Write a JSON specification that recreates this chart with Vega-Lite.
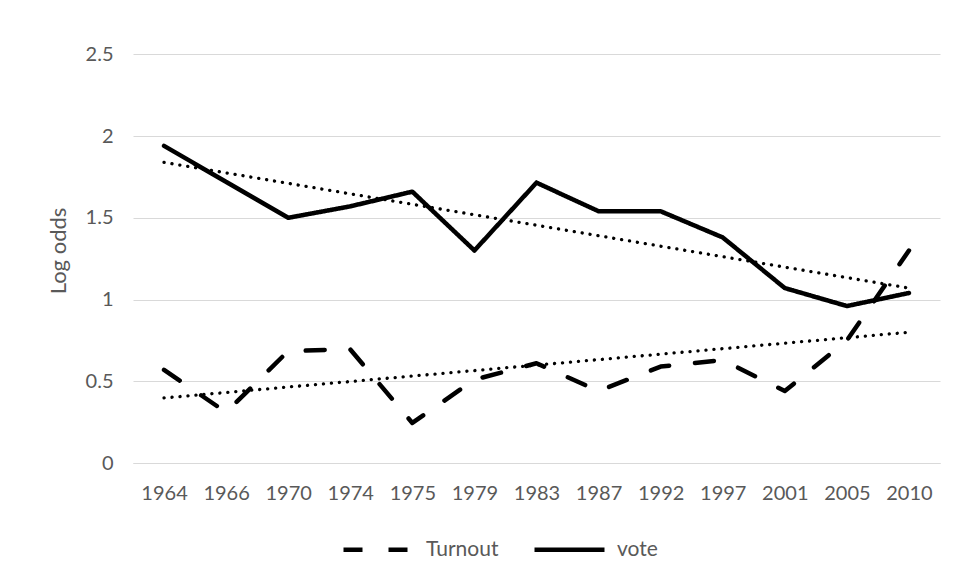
{
  "$schema": "https://vega.github.io/schema/vega-lite/v6.json",
  "width": 807,
  "height": 425,
  "autosize": "none",
  "padding": {"left": 133, "top": 38, "right": 17, "bottom": 117},
  "background": "white",
  "config": {
    "view": {"stroke": null},
    "font": "Lato",
    "axis": {"labelFont": "Lato", "titleFont": "Lato", "labelColor": "#595959", "titleColor": "#595959", "labelFontSize": 20, "titleFontSize": 22, "titleFontWeight": "normal"},
    "legend": {"labelFont": "Lato", "labelFontSize": 21, "labelColor": "#595959"}
  },
  "datasets": {
    "main": [
      {"year": "1964", "series": "Turnout", "value": 0.57},
      {"year": "1966", "series": "Turnout", "value": 0.31},
      {"year": "1970", "series": "Turnout", "value": 0.685},
      {"year": "1974", "series": "Turnout", "value": 0.695},
      {"year": "1975", "series": "Turnout", "value": 0.245},
      {"year": "1979", "series": "Turnout", "value": 0.51},
      {"year": "1983", "series": "Turnout", "value": 0.61},
      {"year": "1987", "series": "Turnout", "value": 0.44},
      {"year": "1992", "series": "Turnout", "value": 0.59},
      {"year": "1997", "series": "Turnout", "value": 0.63},
      {"year": "2001", "series": "Turnout", "value": 0.44},
      {"year": "2005", "series": "Turnout", "value": 0.75},
      {"year": "2010", "series": "Turnout", "value": 1.3},
      {"year": "1964", "series": "vote", "value": 1.94},
      {"year": "1966", "series": "vote", "value": 1.72},
      {"year": "1970", "series": "vote", "value": 1.5},
      {"year": "1974", "series": "vote", "value": 1.57},
      {"year": "1975", "series": "vote", "value": 1.66},
      {"year": "1979", "series": "vote", "value": 1.3},
      {"year": "1983", "series": "vote", "value": 1.715},
      {"year": "1987", "series": "vote", "value": 1.54},
      {"year": "1992", "series": "vote", "value": 1.54},
      {"year": "1997", "series": "vote", "value": 1.38},
      {"year": "2001", "series": "vote", "value": 1.07},
      {"year": "2005", "series": "vote", "value": 0.96},
      {"year": "2010", "series": "vote", "value": 1.04}
    ],
    "trend": [
      {"year": "1964", "series": "Turnout trend", "value": 0.398},
      {"year": "2010", "series": "Turnout trend", "value": 0.8},
      {"year": "1964", "series": "vote trend", "value": 1.839},
      {"year": "2010", "series": "vote trend", "value": 1.07}
    ]
  },
  "layer": [
    {
      "data": {"name": "trend"},
      "mark": {"type": "line", "color": "black", "strokeWidth": 3.3, "strokeDash": [0.1, 7.9], "strokeCap": "round"},
      "encoding": {
        "x": {"field": "year", "type": "ordinal"},
        "y": {"field": "value", "type": "quantitative"},
        "detail": {"field": "series"}
      }
    },
    {
      "data": {"name": "main"},
      "mark": {"type": "line", "color": "black", "strokeWidth": 4.5, "strokeCap": "round", "strokeJoin": "round"},
      "encoding": {
        "x": {
          "field": "year", "type": "ordinal",
          "scale": {"type": "point", "padding": 0.5},
          "axis": {"title": null, "labelAngle": 0, "labelAlign": "center", "labelBaseline": "top", "ticks": false, "grid": false, "domain": true, "domainColor": "#d9d9d9", "domainWidth": 1, "labelPadding": 20}
        },
        "y": {
          "field": "value", "type": "quantitative",
          "scale": {"domain": [0, 2.5]},
          "axis": {"title": "Log odds", "values": [0, 0.5, 1, 1.5, 2, 2.5], "format": "~g", "ticks": false, "domain": false, "gridColor": "#d9d9d9", "gridWidth": 1, "labelPadding": 20, "titlePadding": 15}
        },
        "strokeDash": {
          "field": "series", "type": "nominal",
          "scale": {"domain": ["Turnout", "vote"], "range": [[19, 26], [1, 0]]},
          "legend": {"title": null, "orient": "none", "direction": "horizontal", "legendX": 208, "legendY": 474, "symbolType": "stroke", "symbolSize": 4900, "symbolStrokeWidth": 4.5, "symbolStrokeColor": "black", "labelOffset": 10, "columnPadding": 26}
        }
      }
    }
  ]
}
